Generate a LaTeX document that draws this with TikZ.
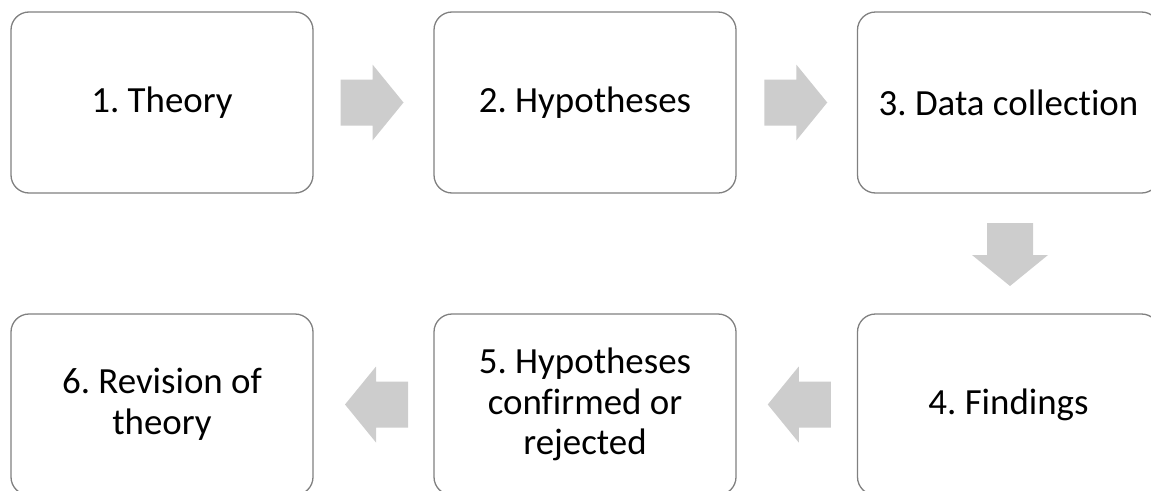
\documentclass[tikz,border=0pt]{standalone}
\usepackage{fontspec}
\setmainfont{Carlito}[Ligatures=NoCommon]
\usetikzlibrary{calc}
\definecolor{boxline}{RGB}{128,128,128}
\definecolor{arrowfill}{RGB}{205,205,205}
\tikzset{
  stepbox/.style={draw=boxline, line width=1.3pt, fill=white, rounded corners=18pt,
    minimum width=302pt, minimum height=181pt, inner sep=0pt, align=center,
    font=\fontsize{36.9pt}{40.5pt}\selectfont\frenchspacing},
  blockarrow/.pic={\fill[arrowfill] (-31.5pt,-23pt) -- (0.5pt,-23pt) -- (0.5pt,-38pt)
    -- (31.5pt,0pt) -- (0.5pt,38pt) -- (0.5pt,23pt) -- (-31.5pt,23pt) -- cycle;}
}
\begin{document}
\begin{tikzpicture}[x=1pt,y=1pt]
\useasboundingbox (0,0) rectangle (1151,-490);
\clip (0,0) rectangle (1151,-490);
\node[stepbox] (b1) at (162,-102.5) {1. Theory};
\node[stepbox] (b2) at (585,-102.5) {2. Hypotheses};
\node[stepbox] (b3) at (1008.5,-102.5) {3. Data collection};
\node[stepbox] (b4) at (1008.5,-404.5) {4. Findings};
\node[stepbox] (b5) at (585,-404.5) {5. Hypotheses\\confirmed or\\rejected};
\node[stepbox] (b6) at (162,-404.5) {6. Revision of\\theory};
\path ($(b1.east)!0.5!(b2.west)$) ++(-1.5,0) pic {blockarrow};
\path ($(b2.east)!0.5!(b3.west)$) ++(-1,0) pic {blockarrow};
\path ($(b3.south)!0.5!(b4.north)$) ++(1.5,-1) pic[rotate=-90] {blockarrow};
\path ($(b4.west)!0.5!(b5.east)$) ++(2.5,0) pic[rotate=180] {blockarrow};
\path ($(b5.west)!0.5!(b6.east)$) ++(3,0) pic[rotate=180] {blockarrow};
\end{tikzpicture}
\end{document}
